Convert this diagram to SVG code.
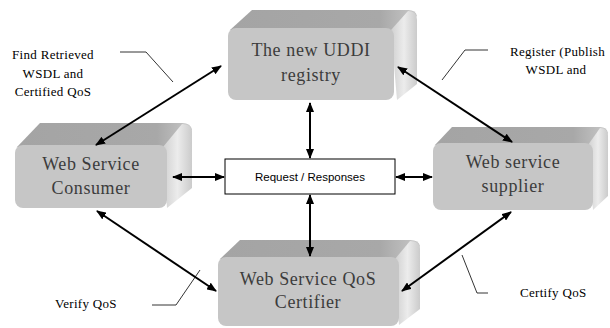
<svg xmlns="http://www.w3.org/2000/svg" width="610" height="328" viewBox="0 0 610 328">
<defs>
<linearGradient id="gTop" x1="0" y1="0" x2="1" y2="0">
<stop offset="0" stop-color="#a4a4a4"/>
<stop offset="0.8" stop-color="#a8a8a8"/>
<stop offset="1" stop-color="#c8c8c8"/>
</linearGradient>
<linearGradient id="gRight" x1="0" y1="0" x2="1" y2="0">
<stop offset="0" stop-color="#d0d0d0"/>
<stop offset="0.5" stop-color="#ececec"/>
<stop offset="1" stop-color="#cbcbcb"/>
</linearGradient>
<marker id="ah" viewBox="0 0 10 8" refX="9" refY="4" markerWidth="10" markerHeight="8" markerUnits="userSpaceOnUse" orient="auto-start-reverse">
<path d="M0,0 L10,4 L0,8 Z" fill="#000"/>
</marker>
<style>
.top{fill:url(#gTop);}
.right{fill:url(#gRight);}
.front{fill:#c6c6c6;}
.conn{stroke:#000;stroke-width:2;fill:none;marker-start:url(#ah);marker-end:url(#ah);}
.lead{stroke:#000;stroke-width:0.8;fill:none;}
</style>
</defs>

<g id="uddi">
<path class="top" d="M230,30 L252,10 L408,10 Q416,10 417,16 L395,30 Z"/>
<path class="right" d="M391,30 L408,11 Q417,11 417,20 L417,84 L397,100 Z"/>
<rect class="front" x="228" y="28" width="166" height="72" rx="8"/>
<g font-family="Liberation Serif, Times New Roman, serif" font-size="18" fill="#3c3c3c" text-anchor="middle" letter-spacing="0.6">
<text x="311" y="56">The new UDDI</text>
<text x="311" y="81">registry</text>
</g>
</g>

<g id="consumer">
<path class="top" d="M17,147 L40,123 L182,123 Q191,123 192,130 L167,147 Z"/>
<path class="right" d="M163,147 L182,124 Q192,124 192,132 L192,188 L167,208 Z"/>
<rect class="front" x="15" y="145" width="152" height="63" rx="8"/>
<g font-family="Liberation Serif, Times New Roman, serif" font-size="18" fill="#3c3c3c" text-anchor="middle" letter-spacing="0.6">
<text x="91" y="170">Web Service</text>
<text x="91" y="194">Consumer</text>
</g>
</g>

<g id="request">
<rect x="225" y="159" width="170" height="35" fill="#fff" stroke="#000" stroke-width="1"/>
<text x="310" y="181" font-family="Liberation Sans, Arial, sans-serif" font-size="11.5" fill="#000" text-anchor="middle">Request / Responses</text>
</g>

<g id="supplier">
<path class="top" d="M435,145 L452,127 L600,127 Q607,127 608,133 L592,145 Z"/>
<path class="right" d="M588,145 L600,128 Q608,128 608,136 L608,196 L593,210 Z"/>
<rect class="front" x="433" y="143" width="160" height="67" rx="8"/>
<g font-family="Liberation Serif, Times New Roman, serif" font-size="18" fill="#3c3c3c" text-anchor="middle" letter-spacing="0.6">
<text x="513" y="168">Web service</text>
<text x="513" y="192">supplier</text>
</g>
</g>

<g id="certifier">
<path class="top" d="M220,259 L240,240 L410,240 Q419,240 420,246 L399,259 Z"/>
<path class="right" d="M395,259 L410,241 Q420,241 420,249 L420,309 L399,325 Z"/>
<rect class="front" x="218" y="257" width="181" height="69" rx="8"/>
<g font-family="Liberation Serif, Times New Roman, serif" font-size="18" fill="#3c3c3c" text-anchor="middle" letter-spacing="0.6">
<text x="308" y="285">Web Service QoS</text>
<text x="308" y="308">Certifier</text>
</g>
</g>

<g id="connectors">
<line class="conn" x1="96" y1="145" x2="221" y2="66"/>
<line class="conn" x1="398" y1="67" x2="512" y2="142"/>
<line class="conn" x1="310" y1="103" x2="310" y2="158"/>
<line class="conn" x1="173" y1="177" x2="224" y2="177"/>
<line class="conn" x1="396" y1="177" x2="432" y2="177"/>
<line class="conn" x1="310" y1="195" x2="310" y2="256"/>
<line class="conn" x1="97" y1="211" x2="216" y2="291"/>
<line class="conn" x1="511" y1="212" x2="402" y2="291"/>
<polyline class="lead" points="120,52 146,52 173,82"/>
<polyline class="lead" points="488,50 465,50 442,80"/>
<polyline class="lead" points="152,305 176,305 200,270"/>
<polyline class="lead" points="488,293 477,293 462,255"/>
</g>

<g id="notes" font-family="Liberation Serif, Times New Roman, serif" font-size="13" fill="#000" letter-spacing="0.3">
<text x="53" y="59" text-anchor="middle">Find Retrieved</text>
<text x="53" y="78" text-anchor="middle">WSDL and</text>
<text x="53" y="96" text-anchor="middle">Certified QoS</text>
<text x="510" y="56">Register (Publish</text>
<text x="556" y="74" text-anchor="middle">WSDL and</text>
<text x="55" y="308">Verify QoS</text>
<text x="520" y="297">Certify QoS</text>
</g>
</svg>
